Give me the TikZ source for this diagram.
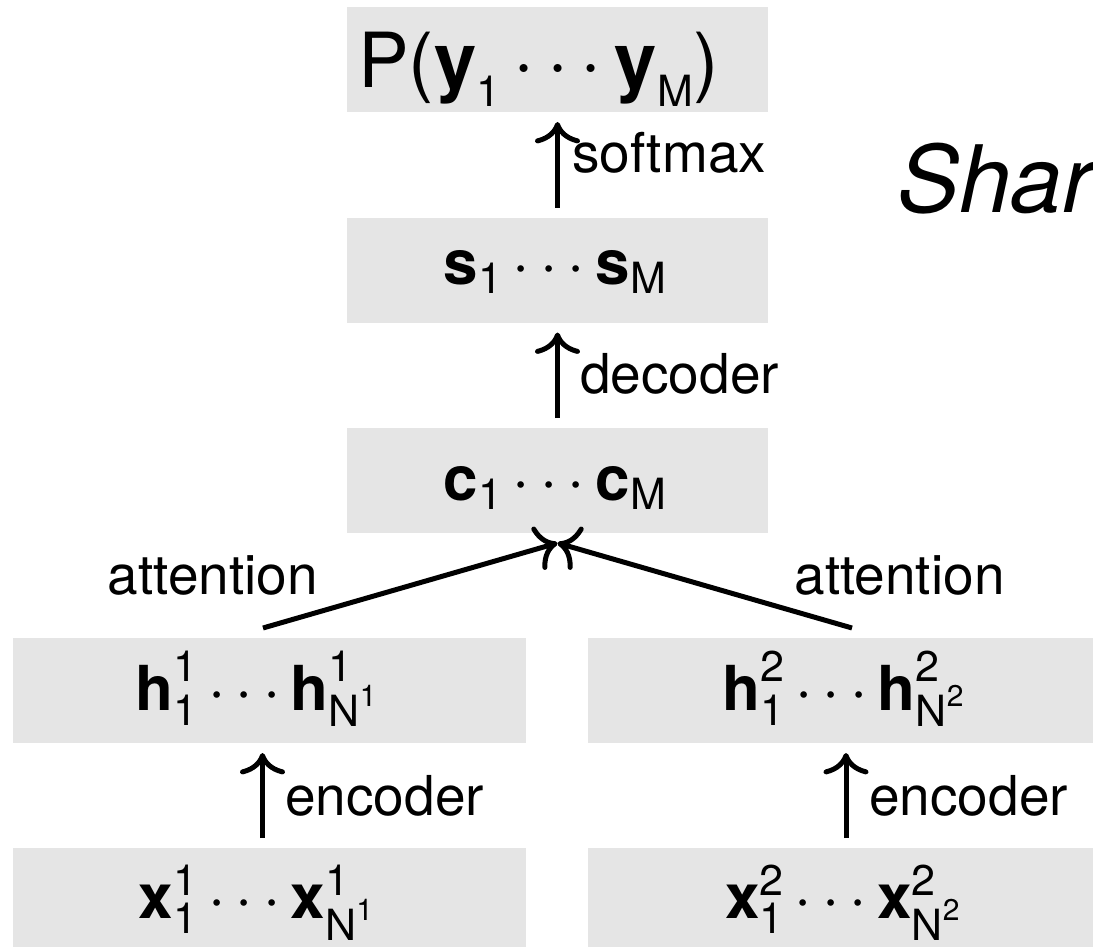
\RequirePackage{fix-cm}
\documentclass[tikz,border=0pt]{standalone}
\usepackage{amsmath}
\usepackage{fontspec}
\setmainfont{TeX Gyre Heros}
\usetikzlibrary{arrows.meta}
\DeclareMathSizes{76}{76}{43}{31}
\DeclareMathSizes{62}{62}{43}{30}
\definecolor{boxgray}{RGB}{229,229,229}

% bold vector symbol and upright script text
\newcommand\bv[1]{\textbf{#1}}
\newcommand\tx[1]{\text{#1}}

\tikzset{
  box/.style={fill=boxgray, minimum height=105pt, inner sep=0pt, outer sep=10pt},
  widebox/.style={box, minimum width=421pt},
  halfbox/.style={box, minimum width=513pt},
  arr/.style={line width=5pt, -{Computer Modern Rightarrow[scale=1.7]}},
  bigtext/.style={font=\fontsize{76}{90}\selectfont, inner sep=0pt, anchor=base},
  midtext/.style={font=\fontsize{62}{72}\selectfont, inner sep=0pt, anchor=base},
  lbl/.style={font=\fontsize{55}{64}\selectfont, inner sep=0pt},
}

\begin{document}
\begin{tikzpicture}[x=1pt,y=-1pt]
  \useasboundingbox (0,0) rectangle (1093,947);

  % stacked boxes of the shared decoder
  \node[widebox] (pbox) at (557.5,59.5) {};
  \node[widebox] (sbox) at (557.5,270) {};
  \node[widebox] (cbox) at (557.5,480.5) {};

  % two encoder columns
  \node[halfbox] (h1box) at (269.5,690.5) {};
  \node[halfbox] (x1box) at (269.5,900.5) {};
  \node[halfbox] (h2box) at (844.5,690.5) {};
  \node[halfbox] (x2box) at (844.5,900.5) {};

  % box contents
  \node[bigtext] (ptext) at (538.5,88) {P($\bv{y}_{\tx{1}}\cdots\bv{y}_{\tx{M}}$)};
  \node[midtext] (stext) at (555,284) {$\bv{s}_{\tx{1}}\cdots\bv{s}_{\tx{M}}$};
  \node[midtext] (ctext) at (555,500) {$\bv{c}_{\tx{1}}\cdots\bv{c}_{\tx{M}}$};
  \node[midtext] (h1text) at (256.5,710) {$\bv{h}^{\tx{1}}_{\tx{1}}\cdots\bv{h}^{\tx{1}}_{\tx{N}^{\tx{1}}}$};
  \node[midtext] (x1text) at (256.5,918) {$\bv{x}^{\tx{1}}_{\tx{1}}\cdots\bv{x}^{\tx{1}}_{\tx{N}^{\tx{1}}}$};
  \node[midtext] (h2text) at (843.5,710) {$\bv{h}^{\tx{2}}_{\tx{1}}\cdots\bv{h}^{\tx{2}}_{\tx{N}^{\tx{2}}}$};
  \node[midtext] (x2text) at (843,918) {$\bv{x}^{\tx{2}}_{\tx{1}}\cdots\bv{x}^{\tx{2}}_{\tx{N}^{\tx{2}}}$};

  % connectors
  \draw[arr] (sbox.north) -- (pbox.south);
  \draw[arr] (cbox.north) -- (sbox.south);
  \draw[arr] ([xshift=-7pt]x1box.north) -- ([xshift=-7pt]h1box.south);
  \draw[arr] ([xshift=1.5pt]x2box.north) -- ([xshift=1.5pt]h2box.south);
  \draw[arr] ([xshift=-6.5pt]h1box.north) -- (cbox.south);
  \draw[arr] ([xshift=7.5pt]h2box.north) -- (cbox.south);

  % connector labels
  \node[lbl, anchor=base west] (lsoft) at (572,172) {softmax};
  \node[lbl, anchor=base west] (ldec) at (580,393) {decoder};
  \node[lbl, anchor=base west] (lenc1) at (285,815) {encoder};
  \node[lbl, anchor=base west] (lenc2) at (869,815) {encoder};
  \node[lbl, anchor=base] (latt1) at (213,594) {attention};
  \node[lbl, anchor=base] (latt2) at (899.5,594) {attention};

  % heading running off the right edge
  \node[font=\fontsize{93}{100}\selectfont\itshape, anchor=base west, inner sep=0pt] (shared) at (897,212) {Shar};
\end{tikzpicture}
\end{document}
